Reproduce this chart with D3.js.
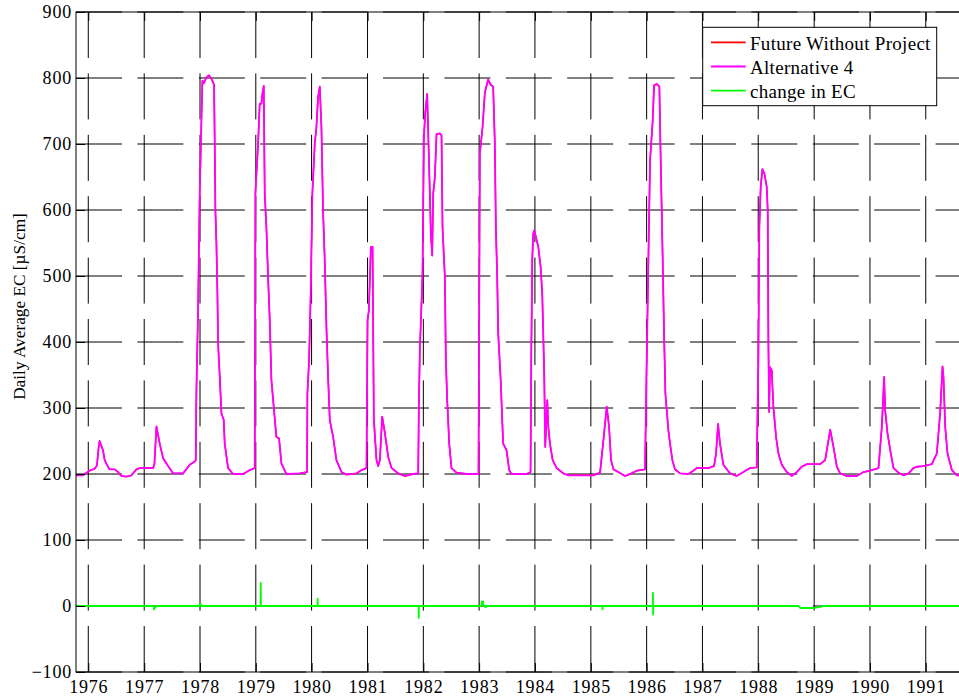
<!DOCTYPE html>
<html>
<head>
<meta charset="utf-8">
<script src="https://cdn.jsdelivr.net/npm/d3@7"></script>
<style>
  html, body { margin: 0; padding: 0; background: #fff; }
  svg { display: block; }
  text { font-family: "Liberation Serif", "Times New Roman", serif; fill: #000; }
</style>
</head>
<body>
<svg id="chart" width="959" height="700"></svg>
<script>
// ---------------- data (decimal years / EC values) -------------
const yTickValues = [-100, 0, 100, 200, 300, 400, 500, 600, 700, 800, 900];
const xTickYears = [1976, 1977, 1978, 1979, 1980, 1981, 1982, 1983, 1984, 1985, 1986, 1987, 1988, 1989, 1990, 1991];
const seriesNames = ["Future Without Project", "Alternative 4", "change in EC"];

const alt4Time = [
  1975.755, 1975.904, 1976.024, 1976.114, 1976.155, 1976.185, 1976.203, 1976.263, 1976.293, 1976.352,
  1976.382, 1976.472, 1976.532, 1976.591, 1976.681, 1976.771, 1976.860, 1976.920, 1977.159, 1977.183,
  1977.219, 1977.278, 1977.338, 1977.428, 1977.517, 1977.697, 1977.816, 1977.906, 1977.924, 1977.935,
  1977.965, 1977.995, 1978.025, 1978.043, 1978.067, 1978.115, 1978.162, 1978.204, 1978.252, 1978.264,
  1978.276, 1978.294, 1978.312, 1978.324, 1978.354, 1978.384, 1978.425, 1978.443, 1978.503, 1978.593,
  1978.772, 1978.891, 1978.981, 1978.993, 1979.041, 1979.070, 1979.100, 1979.118, 1979.142, 1979.160,
  1979.190, 1979.220, 1979.250, 1979.280, 1979.321, 1979.369, 1979.417, 1979.459, 1979.548, 1979.787,
  1979.919, 1979.925, 1979.955, 1979.984, 1980.014, 1980.056, 1980.086, 1980.116, 1980.146, 1980.176,
  1980.205, 1980.235, 1980.265, 1980.295, 1980.325, 1980.385, 1980.444, 1980.534, 1980.624, 1980.803,
  1980.892, 1980.982, 1981.000, 1981.024, 1981.060, 1981.090, 1981.113, 1981.161, 1981.191, 1981.221,
  1981.263, 1981.311, 1981.370, 1981.430, 1981.550, 1981.669, 1981.818, 1981.908, 1981.920, 1981.938,
  1981.986, 1982.010, 1982.033, 1982.069, 1982.093, 1982.117, 1982.135, 1982.159, 1982.177, 1982.207,
  1982.237, 1982.296, 1982.326, 1982.344, 1982.386, 1982.404, 1982.428, 1982.464, 1982.505, 1982.595,
  1982.774, 1982.989, 1983.013, 1983.061, 1983.103, 1983.162, 1983.204, 1983.252, 1983.282, 1983.300,
  1983.324, 1983.342, 1983.384, 1983.431, 1983.491, 1983.539, 1983.581, 1983.851, 1983.922, 1983.934,
  1983.952, 1983.970, 1983.988, 1984.018, 1984.060, 1984.102, 1984.131, 1984.149, 1984.167, 1984.185,
  1984.221, 1984.239, 1984.269, 1984.317, 1984.388, 1984.508, 1984.597, 1985.045, 1985.165, 1985.225,
  1985.284, 1985.326, 1985.362, 1985.404, 1985.493, 1985.613, 1985.703, 1985.822, 1985.971, 1986.001,
  1986.031, 1986.061, 1986.109, 1986.133, 1986.180, 1986.228, 1986.252, 1986.288, 1986.312, 1986.336,
  1986.389, 1986.419, 1986.461, 1986.509, 1986.599, 1986.748, 1986.838, 1986.897, 1987.106, 1987.208,
  1987.244, 1987.280, 1987.315, 1987.375, 1987.495, 1987.614, 1987.734, 1987.853, 1987.973, 1988.002,
  1988.020, 1988.044, 1988.074, 1988.110, 1988.152, 1988.170, 1988.182, 1988.194, 1988.211, 1988.241,
  1988.271, 1988.319, 1988.361, 1988.421, 1988.510, 1988.600, 1988.689, 1988.779, 1988.869, 1989.108,
  1989.197, 1989.287, 1989.346, 1989.406, 1989.466, 1989.585, 1989.765, 1989.884, 1990.004, 1990.153,
  1990.213, 1990.254, 1990.272, 1990.314, 1990.374, 1990.422, 1990.511, 1990.601, 1990.691, 1990.780,
  1990.840, 1990.959, 1991.109, 1991.198, 1991.258, 1991.300, 1991.318, 1991.348, 1991.390, 1991.468,
  1991.557, 1991.750
];
const alt4EC = [
  198, 198, 205, 208, 213, 240, 250, 236, 221, 211,
  207, 207, 203, 197, 196, 198, 207, 209, 209, 215,
  272, 246, 224, 212, 201, 201, 214, 219, 221, 322,
  448, 625, 735, 796, 792, 801, 804, 799, 790, 700,
  599, 549, 473, 398, 347, 292, 282, 246, 209, 200,
  200, 206, 209, 625, 700, 761, 761, 776, 788, 625,
  574, 498, 433, 342, 302, 256, 254, 216, 200, 201,
  203, 322, 372, 473, 625, 700, 725, 771, 787, 725,
  599, 524, 423, 347, 282, 256, 221, 203, 199, 201,
  206, 209, 433, 448, 544, 544, 282, 221, 212, 221,
  287, 262, 226, 209, 201, 197, 200, 201, 302, 388,
  504, 710, 746, 776, 700, 625, 564, 531, 625, 650,
  715, 716, 713, 574, 498, 372, 312, 246, 209, 202,
  200, 200, 685, 725, 778, 798, 790, 787, 700, 574,
  498, 413, 347, 246, 236, 206, 200, 200, 203, 372,
  524, 564, 569, 559, 544, 514, 473, 413, 347, 241,
  312, 272, 246, 221, 209, 201, 198, 198, 202, 251,
  302, 272, 221, 207, 203, 197, 200, 205, 207, 372,
  524, 675, 736, 789, 791, 787, 675, 524, 413, 322,
  267, 246, 221, 207, 201, 200, 205, 209, 209, 212,
  231, 276, 246, 214, 201, 197, 203, 209, 210, 372,
  574, 635, 662, 655, 635, 599, 398, 294, 362, 357,
  302, 256, 231, 214, 203, 197, 203, 211, 215, 215,
  221, 267, 241, 211, 201, 197, 197, 203, 205, 209,
  272, 347, 297, 262, 231, 209, 202, 198, 201, 209,
  211, 212, 215, 231, 292, 363, 347, 272, 231, 206,
  198, 197
];
// Future Without Project lies under Alternative 4 almost everywhere in the picture
const fwopTime = alt4Time;
const fwopEC = alt4EC;

const changeTime = [
  1975.755, 1977.170, 1977.175, 1977.200, 1977.220, 1978.000, 1978.005, 1978.020, 1978.030, 1979.085,
  1979.088, 1979.092, 1980.105, 1980.108, 1980.112, 1981.915, 1981.918, 1981.922, 1983.040, 1983.050,
  1983.060, 1983.070, 1983.080, 1983.120, 1983.130, 1985.205, 1985.210, 1985.215, 1986.110, 1986.113,
  1986.116, 1986.120, 1988.720, 1988.750, 1989.000, 1989.140, 1989.150, 1991.750
];
const changeEC = [
  0, 0, -5, -2, 0, 0, 4, 2, 0, 0,
  35, 0, 0, 11, 0, 0, -18, 0, 0, 7,
  2, 7, 0, -2, 0, 0, -5, 0, 0, 20,
  -13, 0, 0, -3, -3, -1, 0, 0
];

// ---------------- helpers ----------------
function decToDate(t) {
  const y = Math.floor(t);
  const a = Date.UTC(y, 0, 1), b = Date.UTC(y + 1, 0, 1);
  return new Date(a + (t - y) * (b - a));
}
function zipSeries(ts, vs) { return ts.map((t, i) => ({ date: decToDate(t), value: vs[i] })); }

// ---------------- layout ----------------
const svg = d3.select("#chart");
const X0 = 76, X1 = 967.6, Y0 = 12, Y1 = 672;

const x = d3.scaleUtc().domain([decToDate(1975.78), decToDate(1991.75)]).range([X0, X1]);
const y = d3.scaleLinear().domain([-100, 900]).range([Y1, Y0]);
const xTicks = xTickYears.map(yr => new Date(Date.UTC(yr, 0, 1)));

// grid (dashed, under data)
const grid = svg.append("g").attr("class", "grid");
grid.selectAll("line.h").data(yTickValues).join("line")
  .attr("x1", X0).attr("x2", X1)
  .attr("y1", d => y(d)).attr("y2", d => y(d))
  .attr("stroke", "#000").attr("stroke-width", 1)
  .attr("stroke-dasharray", "46,15.4");
grid.selectAll("line.v").data(xTicks).join("line")
  .attr("x1", d => x(d)).attr("x2", d => x(d))
  .attr("y1", Y0).attr("y2", Y1)
  .attr("stroke", "#000").attr("stroke-width", 1)
  .attr("stroke-dasharray", "46,15.4");

// data
svg.append("clipPath").attr("id", "clip")
  .append("rect").attr("x", X0).attr("y", Y0).attr("width", X1 - X0).attr("height", Y1 - Y0);
const line = d3.line().x(d => x(d.date)).y(d => y(d.value));
const plot = svg.append("g").attr("clip-path", "url(#clip)");
const series = [
  { name: seriesNames[0], color: "#ff0000", width: 1.4, data: zipSeries(fwopTime, fwopEC) },
  { name: seriesNames[1], color: "#ff00ff", width: 1.8, data: zipSeries(alt4Time, alt4EC) },
  { name: seriesNames[2], color: "#00ff00", width: 1.8, data: zipSeries(changeTime, changeEC) }
];
series.forEach(s => {
  plot.append("path").datum(s.data)
    .attr("d", line).attr("fill", "none")
    .attr("stroke", s.color).attr("stroke-width", s.width)
    .attr("stroke-linejoin", "round");
});

// axes
const fontSize = 18;
const yAxis = svg.append("g").attr("transform", `translate(${X0},0)`)
  .call(d3.axisLeft(y).tickValues(yTickValues).tickSize(-9).tickSizeOuter(0).tickPadding(4));
const xAxis = svg.append("g").attr("transform", `translate(0,${Y1})`)
  .call(d3.axisBottom(x).tickValues(xTicks).tickFormat(d3.utcFormat("%Y")).tickSize(-9).tickSizeOuter(0).tickPadding(8));
const xTop = svg.append("g").attr("transform", `translate(0,${Y0})`)
  .call(d3.axisTop(x).tickValues(xTicks).tickFormat("").tickSize(-9).tickSizeOuter(0));
[yAxis, xAxis, xTop].forEach(g => {
  g.select(".domain").remove();
  g.selectAll(".tick line").attr("stroke", "#000");
  g.selectAll("text").attr("font-size", fontSize)
    .attr("letter-spacing", "0.8px")
    .attr("font-family", "'Liberation Serif', 'Times New Roman', serif").attr("fill", "#000");
});

// box
svg.append("rect").attr("x", X0).attr("y", Y0).attr("width", X1 - X0).attr("height", Y1 - Y0)
  .attr("fill", "none").attr("stroke", "#000").attr("stroke-width", 1);

// y label
svg.append("text")
  .attr("transform", "translate(25,306.5) rotate(-90)")
  .attr("text-anchor", "middle").attr("font-size", 17.3)
  .text("Daily Average EC [µS/cm]");

// legend
const leg = svg.append("g");
leg.append("rect").attr("x", 702.7).attr("y", 27.3).attr("width", 234).attr("height", 78.4)
  .attr("fill", "#fff").attr("stroke", "#000").attr("stroke-width", 1);
series.forEach((s, i) => {
  const ly = 42.3 + i * 24.2;
  leg.append("line").attr("x1", 711).attr("x2", 745.7).attr("y1", ly).attr("y2", ly)
    .attr("stroke", s.color).attr("stroke-width", 1.8);
  leg.append("text").attr("x", 750).attr("y", ly + 7.5).attr("font-size", 19)
    .attr("letter-spacing", "0.3px").text(s.name);
});
</script>
</body>
</html>
